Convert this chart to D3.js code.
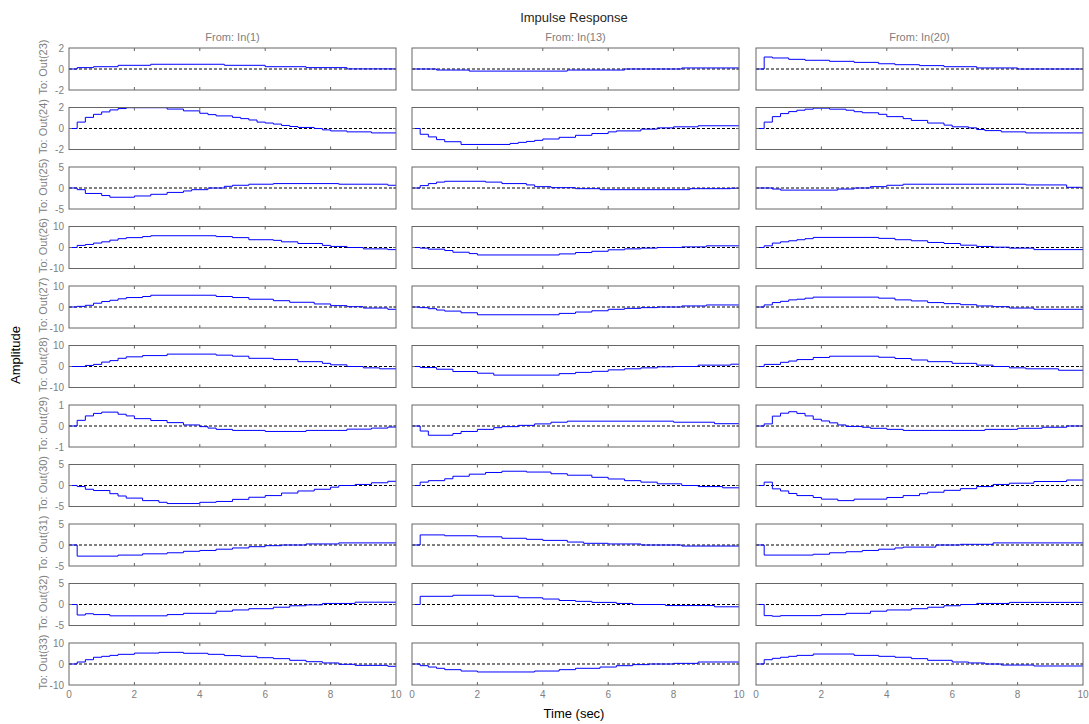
<!DOCTYPE html>
<html lang="en">
<head>
<meta charset="UTF-8">
<title>Impulse Response</title>
<style>
body { margin: 0; background: #fff; font-family: "Liberation Sans", Arial, sans-serif; }
svg { display: block; }
.tick-label { fill: #808080; font-size: 10px; }
.io-label { fill: #808080; font-size: 11px; }
.box { fill: none; stroke: #666; stroke-width: 1; }
.tick { stroke: #666; stroke-width: 1; }
.zero { stroke: #000; stroke-width: 1; stroke-dasharray: 3,2; }
.resp { fill: none; stroke: #0000ff; stroke-width: 1; }
</style>
</head>
<body>
<svg id="chart" width="1089" height="724"></svg>
<script src="https://d3js.org/d3.v7.min.js"></script>
<script>
// outputs / inputs
const outputs = ["Out(23)", "Out(24)", "Out(25)", "Out(26)", "Out(27)", "Out(28)",
                 "Out(29)", "Out(30)", "Out(31)", "Out(32)", "Out(33)"];
const inputs = ["In(1)", "In(13)", "In(20)"];
// symmetric y limit of each row
const yLimits = [2, 2, 5, 10, 10, 10, 1, 5, 5, 5, 10];
const xTicks = [0, 2, 4, 6, 8, 10];
const tEnd = 10;

// step responses, [time, value] at each visible step, one list per input
const resp23 = [
  [[0,0],[0.25,0.13],[0.75,0.22],[1.5,0.35],[2.5,0.45],[4.75,0.35],[6,0.22],[7.25,0.13],[8.5,0.01]],
  [[0,0],[0.75,-0.1],[1.75,-0.2],[4.75,-0.1],[6.5,0],[8.25,0.1]],
  [[0,0],[0.25,1.14],[0.5,1.05],[1,0.92],[1.5,0.83],[2.25,0.73],[3,0.63],[3.75,0.5],[4.25,0.41],[5,0.32],[5.75,0.22],[6.75,0.1],[8,0]]
];
const resp24 = [
  [[0,0],[0.25,0.61],[0.5,1.06],[0.75,1.35],[1,1.58],[1.25,1.77],[1.5,1.9],[1.75,1.98],[3,1.85],[3.5,1.68],[4,1.45],[4.25,1.32],[4.5,1.2],[5,1.06],[5.25,0.94],[5.5,0.81],[5.75,0.61],[6,0.52],[6.25,0.42],[6.5,0.29],[6.75,0.19],[7,0.1],[7.5,0],[7.75,-0.13],[8,-0.23],[8.5,-0.32],[9.25,-0.42]],
  [[0,0],[0.25,-0.55],[0.5,-0.8],[0.75,-1.06],[1,-1.26],[1.5,-1.52],[3,-1.42],[3.25,-1.32],[3.5,-1.23],[3.75,-1.13],[4,-1.0],[4.5,-0.84],[5,-0.65],[5.5,-0.48],[6,-0.32],[6.25,-0.23],[7,-0.06],[7.5,0.06],[8,0.16],[8.75,0.26]],
  [[0,0],[0.25,0.61],[0.5,1.13],[0.75,1.42],[1,1.61],[1.25,1.74],[1.5,1.84],[1.75,1.94],[2.25,1.84],[2.75,1.74],[3,1.6],[3.25,1.5],[3.75,1.35],[4,1.13],[4.5,0.94],[4.75,0.77],[5.25,0.52],[5.75,0.32],[6,0.16],[6.5,0.06],[6.75,-0.1],[7,-0.2],[7.5,-0.32],[8.25,-0.42]]
];
const resp25 = [
  [[0,0],[0.25,-0.4],[0.5,-1.3],[1,-1.8],[1.25,-2.2],[2,-1.9],[2.5,-1.5],[3,-1.05],[3.5,-0.7],[3.75,-0.4],[4.25,0],[4.75,0.4],[5,0.65],[5.5,0.9],[6.25,1.05],[8.25,0.9],[9.75,0.65]],
  [[0,0],[0.25,0.57],[0.5,1.05],[0.75,1.4],[1,1.6],[2.25,1.4],[2.75,1.05],[3.5,0.73],[3.75,0.32],[4.25,0.08],[5,-0.16],[5.75,-0.4],[8.5,-0.16],[9.75,-0.05]],
  [[0,0],[0.5,-0.25],[0.75,-0.5],[2.5,-0.25],[3,0],[3.5,0.32],[4,0.65],[4.5,0.9],[8.25,0.73],[9.5,0.16]]
];
const resp26 = [
  [[0,0],[0.25,1.0],[0.5,1.45],[0.75,2.1],[1,2.7],[1.25,3.5],[1.5,4.2],[1.75,4.7],[2.25,5.2],[2.5,5.6],[4.5,5.2],[5,4.7],[5.5,3.7],[6.25,3.4],[6.5,2.7],[7,1.9],[7.75,1.0],[8,0.5],[8.5,0],[9,-0.65],[9.75,-1.0]],
  [[0,0],[0.25,-0.3],[0.5,-0.8],[1,-1.45],[1.25,-2.25],[1.75,-2.9],[2,-3.55],[4.5,-3.05],[5,-2.4],[5.5,-1.8],[6,-1.1],[6.5,-0.65],[7,-0.3],[7.5,0],[8.25,0.3],[9,0.8]],
  [[0,0],[0.25,0.8],[0.5,2.1],[0.75,2.7],[1,3.2],[1.25,3.7],[1.5,4.2],[1.75,4.8],[3.75,4.35],[4.25,3.7],[4.75,3.2],[5.25,2.4],[5.75,1.9],[6.25,1.1],[6.75,0.5],[7.25,0.16],[7.75,-0.3],[8.5,-1.0]]
];
const resp27 = [
  [[0,0],[0.25,0.3],[0.5,0.8],[0.75,1.8],[1,2.6],[1.25,3.2],[1.5,3.9],[1.75,4.5],[2.25,5.0],[2.5,5.6],[4.5,5.0],[5,4.5],[5.5,3.7],[6.25,3.0],[6.75,2.25],[7.5,1.45],[8,0.65],[8.5,0.16],[9,-0.5],[9.75,-1.1]],
  [[0,0],[0.25,-0.3],[0.5,-0.8],[0.75,-1.45],[1,-1.95],[1.5,-2.75],[2,-3.7],[4.5,-3.05],[5,-2.4],[5.5,-1.8],[6,-1.1],[6.5,-0.65],[7,-0.3],[7.5,0],[8.25,0.5],[9,0.97]],
  [[0,0],[0.25,1.0],[0.5,2.1],[0.75,2.7],[1,3.4],[1.25,3.7],[1.5,4.2],[1.75,4.7],[3.75,4.2],[4.25,3.4],[4.75,2.9],[5.25,2.1],[5.75,1.6],[6.25,1.1],[6.75,0.5],[7.25,0.16],[7.75,-0.5],[8.5,-1.1]]
];
const resp28 = [
  [[0,0],[0.5,0.5],[0.75,1.0],[1,2.1],[1.25,2.8],[1.5,3.9],[1.75,4.6],[2.25,5.2],[3,5.9],[4.5,5.4],[5,4.9],[5.5,3.9],[6.25,3.3],[7,2.3],[7.75,1.5],[8,0.8],[8.5,0],[9,-0.65],[9.5,-1.1]],
  [[0,0],[0.25,-0.5],[0.75,-1.3],[1.25,-2.4],[2,-3.2],[2.5,-4.1],[4.5,-3.4],[5,-2.8],[5.5,-2.3],[6,-1.6],[6.5,-1.1],[7,-0.65],[7.5,-0.16],[8,0],[8.75,0.65],[9.75,1.1]],
  [[0,0],[0.25,1.0],[0.75,2.0],[1,2.6],[1.25,3.3],[1.75,4.3],[2.25,4.9],[3.75,4.4],[4.25,3.8],[4.75,3.1],[5.25,2.3],[6,1.5],[6.75,0.65],[7.25,0],[7.75,-0.65],[8.25,-1.1],[9.25,-1.8]]
];
const resp29 = [
  [[0,0],[0.25,0.27],[0.5,0.48],[0.75,0.6],[1,0.66],[1.5,0.56],[1.75,0.48],[2,0.35],[2.5,0.26],[3,0.16],[3.5,0.05],[4,-0.03],[4.25,-0.1],[4.5,-0.16],[5,-0.21],[6,-0.26],[7.25,-0.21],[8.5,-0.15],[9.25,-0.1],[9.75,-0.05]],
  [[0,0],[0.25,-0.24],[0.5,-0.44],[1.25,-0.36],[1.5,-0.26],[2,-0.16],[2.5,-0.08],[2.75,-0.03],[3.25,0.03],[3.75,0.1],[4.25,0.18],[4.75,0.23],[8,0.18],[9.25,0.11]],
  [[0,0],[0.25,0.1],[0.5,0.47],[0.75,0.61],[1,0.68],[1.25,0.6],[1.5,0.48],[1.75,0.32],[2,0.24],[2.25,0.15],[2.5,0.05],[2.75,-0.02],[3.25,-0.06],[3.5,-0.11],[4,-0.16],[4.5,-0.21],[7,-0.16],[8,-0.11],[8.75,-0.06],[9.5,0]]
];
const resp30 = [
  [[0,0],[0.25,-0.25],[0.5,-0.9],[0.75,-1.2],[1.25,-1.95],[1.5,-2.5],[1.75,-3.0],[2.25,-3.6],[2.75,-4.0],[3,-4.3],[4,-4.0],[4.5,-3.8],[5,-3.3],[5.5,-2.8],[6,-2.4],[6.5,-1.8],[7,-1.3],[7.5,-0.9],[8,-0.4],[8.25,0],[8.75,0.25],[9.25,0.65],[9.75,1.0]],
  [[0,0],[0.25,0.8],[0.5,1.15],[1,1.6],[1.25,2.2],[1.75,2.7],[2.25,3.1],[2.75,3.4],[3.5,3.2],[4.25,2.8],[4.75,2.45],[5.5,1.95],[6,1.55],[6.5,1.15],[7,0.8],[7.5,0.4],[8.25,0],[8.75,-0.25],[9.5,-0.55]],
  [[0,0],[0.25,0.8],[0.5,-0.8],[0.75,-1.3],[1,-1.9],[1.25,-2.4],[1.75,-2.85],[2,-3.25],[2.5,-3.6],[3,-3.25],[4,-2.85],[4.5,-2.4],[5,-1.95],[5.25,-1.6],[5.75,-1.15],[6.25,-0.75],[6.75,-0.25],[7.25,0.25],[7.75,0.55],[8.5,0.95],[9.5,1.3]]
];
const resp31 = [
  [[0,0],[0.25,-2.65],[1.5,-2.4],[2.25,-2.1],[3,-1.85],[3.5,-1.5],[4,-1.3],[4.5,-1.0],[5,-0.7],[5.5,-0.4],[6,-0.16],[6.5,0],[7.25,0.25],[8.25,0.5]],
  [[0,0],[0.25,2.4],[1,2.2],[2,1.95],[2.75,1.6],[3.5,1.35],[4,1.1],[4.75,0.7],[5.25,0.4],[6,0.25],[7,0],[8.25,-0.25]],
  [[0,0],[0.25,-2.4],[1.75,-2.2],[2.25,-1.85],[2.75,-1.6],[3.25,-1.3],[3.75,-1.0],[4.25,-0.7],[4.5,-0.5],[5.5,0],[6.25,0.16],[7.25,0.5]]
];
const resp32 = [
  [[0,0],[0.25,-2.5],[0.5,-2.2],[0.75,-2.4],[1.25,-2.7],[3,-2.4],[3.5,-2.1],[4.5,-1.6],[5,-1.3],[5.5,-1.0],[6.25,-0.65],[6.75,-0.3],[7.25,-0.1],[7.75,0.25],[8.75,0.55]],
  [[0,0],[0.25,1.95],[1.25,2.2],[2.5,1.95],[3.25,1.6],[4,1.3],[4.5,0.95],[5,0.75],[5.5,0.5],[6.25,0.25],[6.75,0],[7.75,-0.25],[9.25,-0.55]],
  [[0,0],[0.25,-2.65],[0.5,-2.8],[0.75,-2.65],[2,-2.4],[2.75,-2.1],[3.5,-1.6],[4,-1.3],[4.75,-1.0],[5.25,-0.65],[5.75,-0.3],[6.25,0],[6.75,0.25],[7.75,0.5]]
];
const resp33 = [
  [[0,0],[0.25,0.95],[0.5,2.05],[0.75,3.2],[1,3.65],[1.25,4.1],[1.5,4.6],[2,5.2],[2.75,5.55],[3.5,5.1],[4.25,4.6],[4.75,4.0],[5.25,3.65],[5.75,3.0],[6.25,2.55],[6.75,1.75],[7.25,1.1],[7.75,0.5],[8.25,-0.15],[8.75,-0.65],[9.75,-1.1]],
  [[0,0],[0.25,-0.8],[0.5,-1.45],[0.75,-2.05],[1,-2.7],[1.5,-3.35],[2,-3.8],[3.75,-3.35],[4.5,-2.7],[5,-2.05],[5.75,-1.45],[6.25,-0.8],[6.75,-0.3],[7.25,0],[8,0.3],[8.75,0.95]],
  [[0,0],[0.25,2.05],[0.5,2.7],[0.75,3.2],[1,3.65],[1.25,4.1],[1.75,4.75],[3,4.1],[3.75,3.65],[4.25,3.2],[4.75,2.55],[5.25,1.75],[6,0.95],[6.5,0.5],[7,0],[7.5,-0.5],[8.5,-0.95]]
];
const responses = [resp23, resp24, resp25, resp26, resp27, resp28, resp29, resp30, resp31, resp32, resp33];

// layout
const svg = d3.select("#chart");
const colLeft = [69, 412, 756];
const panelW = 327;
const firstTop = 48;
const rowStep = 59.5;
const panelH = 42;
const tickLen = 3;

const x = d3.scaleLinear().domain([0, tEnd]).range([0, panelW]);

svg.append("text")
    .attr("x", 574).attr("y", 22)
    .attr("text-anchor", "middle")
    .attr("fill", "#262626")
    .style("font-size", "13px")
    .text("Impulse Response");

svg.append("text")
    .attr("x", 574).attr("y", 718)
    .attr("text-anchor", "middle")
    .attr("fill", "#000")
    .style("font-size", "13px")
    .text("Time (sec)");

svg.append("text")
    .attr("transform", "translate(20,355) rotate(-90)")
    .attr("text-anchor", "middle")
    .attr("fill", "#000")
    .style("font-size", "13px")
    .text("Amplitude");

inputs.forEach((name, c) => {
    svg.append("text")
        .attr("class", "io-label")
        .attr("x", colLeft[c] + panelW / 2).attr("y", 41)
        .attr("text-anchor", "middle")
        .text("From: " + name);
});

outputs.forEach((name, r) => {
    const top = firstTop + r * rowStep;
    const lim = yLimits[r];
    const y = d3.scaleLinear().domain([-lim, lim]).range([panelH, 0]);

    svg.append("text")
        .attr("class", "io-label")
        .attr("transform", `translate(47,${top + panelH / 2 - 2}) rotate(-90)`)
        .attr("text-anchor", "middle")
        .text("To: " + name);

    responses[r].forEach((steps, c) => {
        const g = svg.append("g").attr("transform", `translate(${colLeft[c]},${top})`);

        // response as a zero-order hold
        const pts = steps.concat([[tEnd, steps[steps.length - 1][1]]]);
        const line = d3.line()
            .x(d => x(d[0]))
            .y(d => y(d[1]))
            .curve(d3.curveStepAfter);

        g.append("line").attr("class", "zero")
            .attr("x1", 0).attr("x2", panelW)
            .attr("y1", y(0)).attr("y2", y(0));

        g.append("path").attr("class", "resp").attr("d", line(pts));

        // inward ticks
        xTicks.slice(1, -1).forEach(t => {
            g.append("line").attr("class", "tick")
                .attr("x1", x(t)).attr("x2", x(t)).attr("y1", 0).attr("y2", tickLen);
            g.append("line").attr("class", "tick")
                .attr("x1", x(t)).attr("x2", x(t)).attr("y1", panelH).attr("y2", panelH - tickLen);
        });
        g.append("line").attr("class", "tick")
            .attr("x1", 0).attr("x2", tickLen).attr("y1", y(0)).attr("y2", y(0));
        g.append("line").attr("class", "tick")
            .attr("x1", panelW).attr("x2", panelW - tickLen).attr("y1", y(0)).attr("y2", y(0));

        g.append("rect").attr("class", "box")
            .attr("x", 0).attr("y", 0).attr("width", panelW).attr("height", panelH);

        if (c === 0) {
            [-lim, 0, lim].forEach(v => {
                g.append("text").attr("class", "tick-label")
                    .attr("x", -5).attr("y", y(v)).attr("dy", "0.35em")
                    .attr("text-anchor", "end")
                    .text(v);
            });
        }
        if (r === outputs.length - 1) {
            xTicks.forEach(t => {
                g.append("text").attr("class", "tick-label")
                    .attr("x", x(t)).attr("y", panelH + 13)
                    .attr("text-anchor", "middle")
                    .text(t);
            });
        }
    });
});
</script>
</body>
</html>
